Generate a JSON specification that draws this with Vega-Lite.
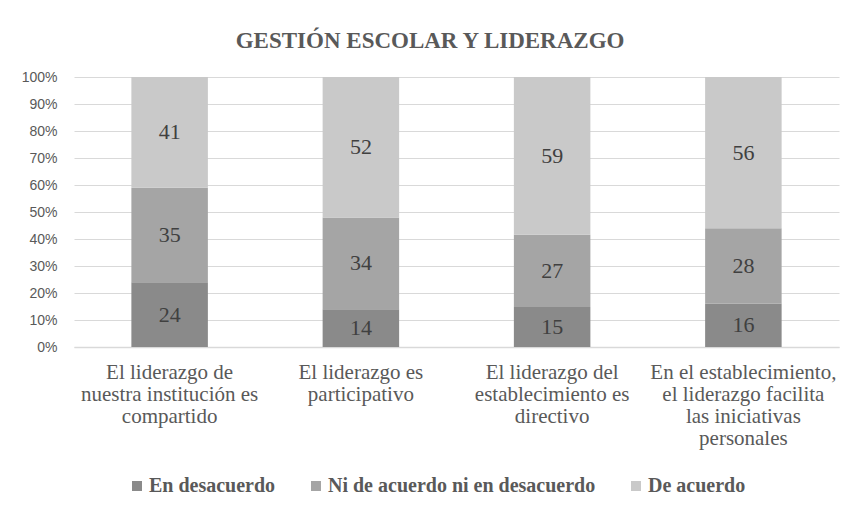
{
  "$schema": "https://vega.github.io/schema/vega-lite/v6.json",
  "width": 765,
  "height": 270,
  "autosize": {"type": "none"},
  "padding": {"left": 74, "top": 77, "right": 12, "bottom": 161},
  "background": "white",
  "title": {
    "text": "GESTIÓN ESCOLAR Y LIDERAZGO",
    "font": "Liberation Serif",
    "fontSize": 23,
    "fontWeight": "bold",
    "color": "#595959",
    "anchor": "middle",
    "frame": "bounds",
    "baseline": "alphabetic",
    "offset": -1
  },
  "data": {
    "values": [
      {"pregunta": "El liderazgo de|nuestra institución es|compartido", "respuesta": "En desacuerdo", "orden": 1, "valor": 24},
      {"pregunta": "El liderazgo de|nuestra institución es|compartido", "respuesta": "Ni de acuerdo ni en desacuerdo", "orden": 2, "valor": 35},
      {"pregunta": "El liderazgo de|nuestra institución es|compartido", "respuesta": "De acuerdo", "orden": 3, "valor": 41},
      {"pregunta": "El liderazgo es|participativo", "respuesta": "En desacuerdo", "orden": 1, "valor": 14},
      {"pregunta": "El liderazgo es|participativo", "respuesta": "Ni de acuerdo ni en desacuerdo", "orden": 2, "valor": 34},
      {"pregunta": "El liderazgo es|participativo", "respuesta": "De acuerdo", "orden": 3, "valor": 52},
      {"pregunta": "El liderazgo del|establecimiento es|directivo", "respuesta": "En desacuerdo", "orden": 1, "valor": 15},
      {"pregunta": "El liderazgo del|establecimiento es|directivo", "respuesta": "Ni de acuerdo ni en desacuerdo", "orden": 2, "valor": 27},
      {"pregunta": "El liderazgo del|establecimiento es|directivo", "respuesta": "De acuerdo", "orden": 3, "valor": 59},
      {"pregunta": "En el establecimiento,|el liderazgo facilita|las iniciativas|personales", "respuesta": "En desacuerdo", "orden": 1, "valor": 16},
      {"pregunta": "En el establecimiento,|el liderazgo facilita|las iniciativas|personales", "respuesta": "Ni de acuerdo ni en desacuerdo", "orden": 2, "valor": 28},
      {"pregunta": "En el establecimiento,|el liderazgo facilita|las iniciativas|personales", "respuesta": "De acuerdo", "orden": 3, "valor": 56}
    ]
  },
  "transform": [
    {"stack": "valor", "groupby": ["pregunta"], "sort": [{"field": "orden", "order": "ascending"}], "as": ["y0", "y1"], "offset": "normalize"},
    {"calculate": "(datum.y0 + datum.y1) / 2", "as": "ymid"}
  ],
  "encoding": {
    "x": {
      "field": "pregunta",
      "type": "nominal",
      "sort": null,
      "title": null,
      "scale": {"paddingInner": 0.6, "paddingOuter": 0.3},
      "axis": {
        "labelExpr": "split(datum.label, '|')",
        "labelAngle": 0,
        "labelFont": "Liberation Serif",
        "labelFontSize": 21,
        "labelLineHeight": 22,
        "labelColor": "#595959",
        "labelPadding": 14,
        "labelLimit": 300,
        "ticks": false,
        "domain": true,
        "domainColor": "#d9d9d9",
        "domainWidth": 1.5,
        "grid": false
      }
    }
  },
  "layer": [
    {
      "mark": {"type": "bar"},
      "encoding": {
        "y": {
          "field": "y0",
          "type": "quantitative",
          "title": null,
          "scale": {"domain": [0, 1], "nice": false},
          "axis": {
            "values": [0, 0.1, 0.2, 0.3, 0.4, 0.5, 0.6, 0.7, 0.8, 0.9, 1],
            "tickCount": 11,
            "labelOverlap": false,
            "format": ".0%"
          }
        },
        "y2": {"field": "y1"},
        "color": {
          "field": "respuesta",
          "type": "nominal",
          "sort": ["En desacuerdo", "Ni de acuerdo ni en desacuerdo", "De acuerdo"],
          "scale": {
            "domain": ["En desacuerdo", "Ni de acuerdo ni en desacuerdo", "De acuerdo"],
            "range": ["#8a8a8a", "#a5a5a5", "#c9c9c9"]
          },
          "legend": {
            "title": null,
            "orient": "none",
            "direction": "horizontal",
            "legendX": 53,
            "legendY": 399,
            "padding": 0,
            "symbolType": "square",
            "symbolSize": 100,
            "symbolStrokeWidth": 0,
            "symbolOpacity": 1,
            "labelFont": "Liberation Serif",
            "labelFontSize": 20,
            "labelFontWeight": "bold",
            "labelColor": "#595959",
            "labelOffset": 2,
            "labelLimit": 400,
            "columnPadding": 30
          }
        }
      }
    },
    {
      "mark": {
        "type": "text",
        "font": "Liberation Serif",
        "fontSize": 22,
        "color": "#404040",
        "baseline": "middle",
        "align": "center"
      },
      "encoding": {
        "y": {
          "field": "ymid",
          "type": "quantitative",
          "title": null,
          "axis": {
            "values": [0, 0.1, 0.2, 0.3, 0.4, 0.5, 0.6, 0.7, 0.8, 0.9, 1],
            "tickCount": 11,
            "labelOverlap": false,
            "format": ".0%"
          }
        },
        "text": {"field": "valor", "type": "quantitative"}
      }
    }
  ],
  "config": {
    "view": {"stroke": null},
    "axisY": {
      "labelFont": "Liberation Sans",
      "labelFontSize": 14,
      "labelColor": "#595959",
      "labelPadding": 17,
      "labelOverlap": false,
      "ticks": false,
      "domain": false,
      "grid": true,
      "gridColor": "#d9d9d9",
      "gridWidth": 1
    }
  }
}
